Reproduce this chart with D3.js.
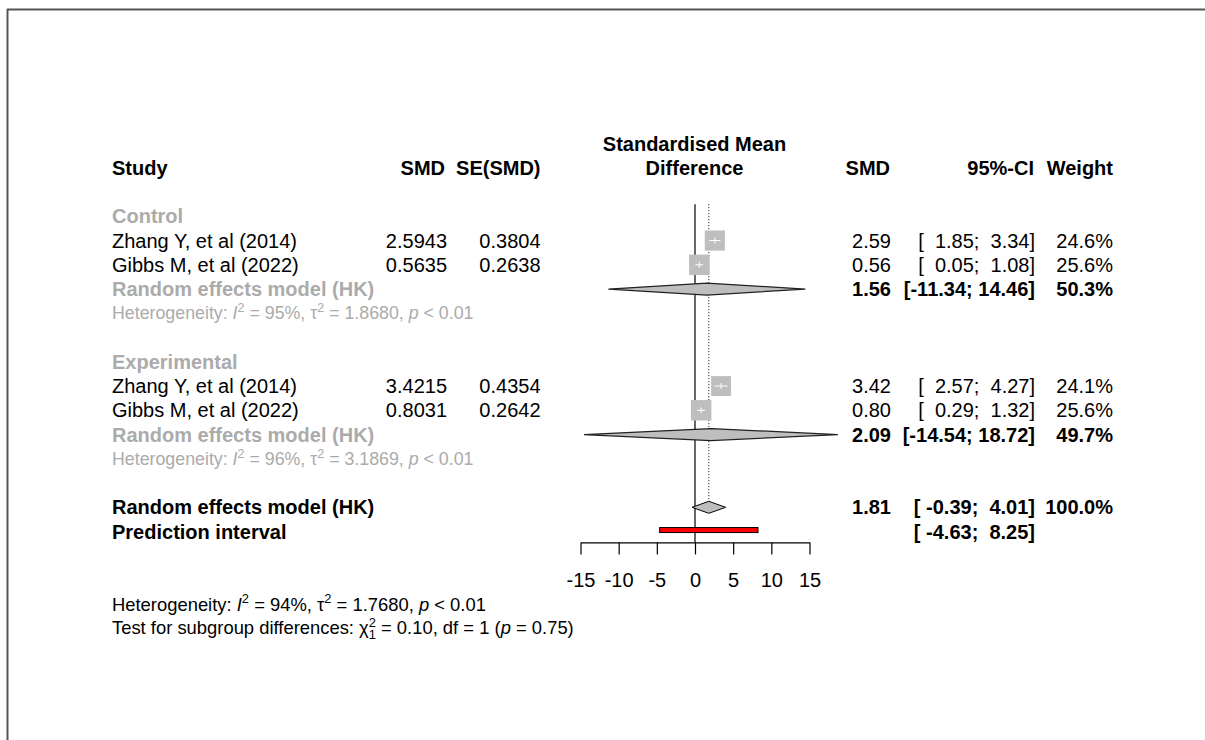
<!DOCTYPE html>
<html>
<head>
<meta charset="utf-8">
<script src="https://cdn.jsdelivr.net/npm/d3@7/dist/d3.min.js"></script>
<style>
  html, body { margin: 0; padding: 0; background: #fff; }
  svg { display: block; font-family: "Liberation Sans", Arial, sans-serif; }
  text { white-space: pre; }
</style>
</head>
<body>
<svg id="chart" width="1205" height="740"></svg>
<script>
// ---------------- data ----------------
const studyLabels = ["Zhang Y, et al (2014)", "Gibbs M, et al (2022)", "Zhang Y, et al (2014)", "Gibbs M, et al (2022)"];
const studyGroup  = ["Control", "Control", "Experimental", "Experimental"];
const studySMD    = [2.5943, 0.5635, 3.4215, 0.8031];
const studySE     = [0.3804, 0.2638, 0.4354, 0.2642];
const studyLower  = [1.85, 0.05, 2.57, 0.29];
const studyUpper  = [3.34, 1.08, 4.27, 1.32];
const studyWeight = [24.6, 25.6, 24.1, 25.6];

const groups        = ["Control", "Experimental"];
const groupSMD      = [1.56, 2.09];
const groupLower    = [-11.34, -14.54];
const groupUpper    = [14.46, 18.72];
const groupWeight   = [50.3, 49.7];
const groupI2       = [95, 96];
const groupTau2     = ["1.8680", "3.1869"];

const overallSMD    = 1.81;
const overallLower  = -0.39;
const overallUpper  = 4.01;
const overallWeight = 100.0;
const predLower     = -4.63;
const predUpper     = 8.25;
const overallI2     = 94;
const overallTau2   = "1.7680";
const subgroupChi2  = "0.10";
const subgroupDf    = 1;
const subgroupP     = "0.75";

const axisTicks = [-15, -10, -5, 0, 5, 10, 15];

// ---------------- layout ----------------
const svg = d3.select("#chart");
const FS = 20;
const GRAY_TXT = "#ababab";
const BOX_FILL = "#bebebe";

const rowY = i => 216.3 + i * 24.25;       // row centre
const base = i => rowY(i) + 7;              // text baseline

const colStudy = 112, colSMD1 = 447, colSE = 540.5;
const colSMD2 = 891, colCI = 1035, colW = 1113;

const x = d3.scaleLinear().domain([-15, 15]).range([580.5, 809.5]);
const boxSize = d3.scaleSqrt().domain([0, 25.6]).range([0, 20.5]);

// frame
svg.append("line").attr("x1", 7).attr("x2", 1205).attr("y1", 9.5).attr("y2", 9.5)
  .attr("stroke", "#555").attr("stroke-width", 2);
svg.append("line").attr("x1", 7.5).attr("x2", 7.5).attr("y1", 9).attr("y2", 740)
  .attr("stroke", "#555").attr("stroke-width", 2);

function txt(xp, y, s, o = {}) {
  return svg.append("text").attr("x", xp).attr("y", y)
    .attr("font-size", o.size || FS)
    .attr("font-weight", o.bold ? "bold" : "normal")
    .attr("font-style", o.italic ? "italic" : "normal")
    .attr("text-anchor", o.anchor || "start")
    .attr("fill", o.fill || "#000")
    .text(s);
}

function rich(x0, y, segs, fill, fs) {
  let xp = x0, stackW = 0;
  segs.forEach(s => {
    const size = s.sup ? fs * 0.7 : fs;
    const t = svg.append("text").attr("x", xp).attr("y", y + (s.dy || 0) * fs / 20)
      .attr("font-size", size)
      .attr("font-style", s.italic ? "italic" : "normal")
      .attr("fill", fill).text(s.t);
    const w = t.node().getComputedTextLength();
    if (s.stack) { stackW = w; }
    else { xp += Math.max(w, stackW); stackW = 0; }
  });
}

const pad = (v, n) => { const s = v.toFixed(2); return " ".repeat(Math.max(0, n - s.length)) + s; };
const ciStr = (lo, hi) => "[" + pad(lo, 6) + "; " + pad(hi, 5) + "]";

// headers
txt(694.5, base(-3), "Standardised Mean", { bold: true, anchor: "middle" });
txt(694.5, base(-2), "Difference", { bold: true, anchor: "middle" });
txt(colStudy, base(-2), "Study", { bold: true });
txt(colSMD1 - 2, base(-2), "SMD", { bold: true, anchor: "end" });
txt(colSE, base(-2), "SE(SMD)", { bold: true, anchor: "end" });
txt(colSMD2 - 1, base(-2), "SMD", { bold: true, anchor: "end" });
txt(colCI - 1, base(-2), "95%-CI", { bold: true, anchor: "end" });
txt(colW, base(-2), "Weight", { bold: true, anchor: "end" });

// reference lines
svg.append("line").attr("x1", x(0)).attr("x2", x(0)).attr("y1", rowY(-0.5)).attr("y2", rowY(13.45))
  .attr("stroke", "#000").attr("stroke-width", 1.2);
svg.append("line").attr("x1", x(overallSMD)).attr("x2", x(overallSMD)).attr("y1", rowY(-0.5)).attr("y2", rowY(12) - 6)
  .attr("stroke", "#000").attr("stroke-width", 1).attr("stroke-dasharray", "1,2");

// subgroups
groups.forEach((gName, gi) => {
  const r0 = gi * 6;
  txt(colStudy, base(r0), gName, { bold: true, fill: GRAY_TXT });
  let r = r0 + 1;
  studyLabels.forEach((lab, si) => {
    if (studyGroup[si] !== gName) return;
    const cy = rowY(r), by = base(r);
    txt(colStudy, by, lab);
    txt(colSMD1, by, studySMD[si].toFixed(4), { anchor: "end" });
    txt(colSE, by, studySE[si].toFixed(4), { anchor: "end" });
    txt(colSMD2, by, studySMD[si].toFixed(2), { anchor: "end" });
    txt(colCI, by, ciStr(studyLower[si], studyUpper[si]), { anchor: "end" });
    txt(colW, by, studyWeight[si].toFixed(1) + "%", { anchor: "end" });
    const s = boxSize(studyWeight[si]);
    const cx = x(studySMD[si]);
    svg.append("line").attr("x1", x(studyLower[si])).attr("x2", x(studyUpper[si]))
      .attr("y1", cy).attr("y2", cy).attr("stroke", "#000");
    svg.append("rect").attr("x", cx - s / 2).attr("y", cy - s / 2).attr("width", s).attr("height", s)
      .attr("fill", BOX_FILL);
    svg.append("line").attr("x1", Math.max(x(studyLower[si]), cx - s / 2)).attr("x2", Math.min(x(studyUpper[si]), cx + s / 2))
      .attr("y1", cy).attr("y2", cy).attr("stroke", "#fff");
    svg.append("line").attr("x1", cx).attr("x2", cx).attr("y1", cy - 3).attr("y2", cy + 3).attr("stroke", "#fff");
    r++;
  });
  // random effects
  const cy = rowY(r), by = base(r);
  txt(colStudy, by, "Random effects model (HK)", { bold: true, fill: GRAY_TXT });
  txt(colSMD2, by, groupSMD[gi].toFixed(2), { bold: true, anchor: "end" });
  txt(colCI, by, ciStr(groupLower[gi], groupUpper[gi]), { bold: true, anchor: "end" });
  txt(colW, by, groupWeight[gi].toFixed(1) + "%", { bold: true, anchor: "end" });
  const h = 6;
  svg.append("polygon")
    .attr("points", [[x(groupLower[gi]), cy], [x(groupSMD[gi]), cy - h], [x(groupUpper[gi]), cy], [x(groupSMD[gi]), cy + h]].map(p => p.join(",")).join(" "))
    .attr("fill", BOX_FILL).attr("stroke", "#222").attr("stroke-width", 1.2);
  r++;
  rich(colStudy, base(r) - 1, [
    { t: "Heterogeneity: " }, { t: "I", italic: true }, { t: "2", sup: true, dy: -8 },
    { t: " = " + groupI2[gi] + "%, τ" }, { t: "2", sup: true, dy: -8 },
    { t: " = " + groupTau2[gi] + ", " }, { t: "p", italic: true }, { t: " < 0.01" }
  ], GRAY_TXT, 17.8);
});

// overall
{
  const r = 12, cy = rowY(r), by = base(r);
  txt(colStudy, by, "Random effects model (HK)", { bold: true });
  txt(colSMD2, by, overallSMD.toFixed(2), { bold: true, anchor: "end" });
  txt(colCI, by, ciStr(overallLower, overallUpper), { bold: true, anchor: "end" });
  txt(colW, by, overallWeight.toFixed(1) + "%", { bold: true, anchor: "end" });
  const h = 6;
  svg.append("polygon")
    .attr("points", [[x(overallLower), cy], [x(overallSMD), cy - h], [x(overallUpper), cy], [x(overallSMD), cy + h]].map(p => p.join(",")).join(" "))
    .attr("fill", BOX_FILL).attr("stroke", "#000").attr("stroke-width", 1);
  const r2 = 13, cy2 = rowY(r2) - 1.5, by2 = base(r2);
  txt(colStudy, by2, "Prediction interval", { bold: true });
  txt(colCI, by2, ciStr(predLower, predUpper), { bold: true, anchor: "end" });
  svg.append("rect").attr("x", x(predLower)).attr("y", cy2 - 2.5).attr("width", x(predUpper) - x(predLower)).attr("height", 5)
    .attr("fill", "#ff0000").attr("stroke", "#000").attr("stroke-width", 1);
}

// axis
const axG = svg.append("g").attr("transform", `translate(0,${rowY(13.45)})`)
  .call(d3.axisBottom(x).tickValues(axisTicks).tickSize(12).tickSizeOuter(0).tickPadding(18.5).tickFormat(d => String(d)));
axG.attr("font-family", null).attr("font-size", null);
axG.selectAll("text").attr("font-size", FS).attr("fill", "#000");
axG.selectAll("line, path").attr("stroke", "#000").attr("stroke-width", 1.2);

// bottom heterogeneity texts
rich(colStudy, 610.7, [
  { t: "Heterogeneity: " }, { t: "I", italic: true }, { t: "2", sup: true, dy: -8 },
  { t: " = " + overallI2 + "%, τ" }, { t: "2", sup: true, dy: -8 },
  { t: " = " + overallTau2 + ", " }, { t: "p", italic: true }, { t: " < 0.01" }
], "#000", 18.4);
rich(colStudy, 634, [
  { t: "Test for subgroup differences: χ" }, { t: "2", sup: true, dy: -8, stack: true }, { t: String(subgroupDf), sup: true, dy: 5 },
  { t: " = " + subgroupChi2 + ", df = " + subgroupDf + " (" }, { t: "p", italic: true }, { t: " = " + subgroupP + ")" }
], "#000", 18.4);
</script>
</body>
</html>
